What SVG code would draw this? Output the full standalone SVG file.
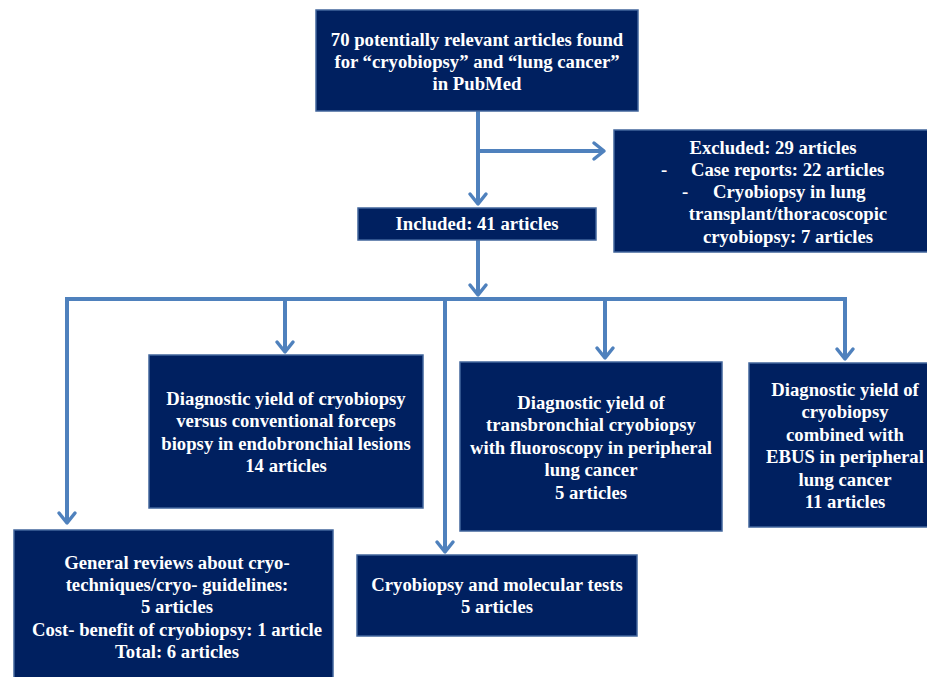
<svg xmlns="http://www.w3.org/2000/svg" width="927" height="677" viewBox="0 0 927 677">
<style>
.box{fill:#002060;stroke:#41659c;stroke-width:1.5}
.t{font-family:"Liberation Serif","Times New Roman",serif;font-weight:bold;font-size:18.7px;fill:#ffffff;text-anchor:middle}
.tl{font-family:"Liberation Serif","Times New Roman",serif;font-weight:bold;font-size:18.7px;fill:#ffffff}
.c{fill:none;stroke:#4f81bd;stroke-width:4}
</style>
<defs>
<marker id="arr" markerUnits="userSpaceOnUse" markerWidth="24" markerHeight="24" viewBox="-14 -12 16 24" refX="0" refY="0" orient="auto">
<path d="M-10,-8 L0,0 L-10,8" fill="none" stroke="#4f81bd" stroke-width="3.5" stroke-linecap="round" stroke-linejoin="round"/>
</marker>
</defs>
<rect width="927" height="677" fill="#ffffff"/>
<g id="connectors">
<path class="c" d="M478 111 V204" marker-end="url(#arr)"/>
<path class="c" d="M478 151 H604" marker-end="url(#arr)"/>
<path class="c" d="M478 240 V295" marker-end="url(#arr)"/>
<path class="c" d="M67 299 H847"/>
<path class="c" d="M67 297 V523" marker-end="url(#arr)"/>
<path class="c" d="M285 299 V352" marker-end="url(#arr)"/>
<path class="c" d="M445 299 V552" marker-end="url(#arr)"/>
<path class="c" d="M605 299 V358" marker-end="url(#arr)"/>
<path class="c" d="M845 297 V359" marker-end="url(#arr)"/>
</g>
<g id="search">
<rect class="box" x="316" y="10" width="322" height="101"/>
<text class="t" x="477" y="46">70 potentially relevant articles found</text>
<text class="t" x="477" y="68">for “cryobiopsy” and “lung cancer”</text>
<text class="t" x="477" y="90">in PubMed</text>
</g>
<g id="excluded">
<rect class="box" x="614" y="130" width="316" height="122"/>
<text class="t" x="773" y="154">Excluded: 29 articles</text>
<text class="tl" x="661" y="176">-</text>
<text class="tl" x="691" y="176">Case reports: 22 articles</text>
<text class="tl" x="682" y="198">-</text>
<text class="tl" x="713" y="198">Cryobiopsy in lung</text>
<text class="t" x="788" y="220">transplant/thoracoscopic</text>
<text class="t" x="788" y="243">cryobiopsy: 7 articles</text>
</g>
<g id="included">
<rect class="box" x="358" y="208" width="238" height="32"/>
<text class="t" x="477" y="230">Included: 41 articles</text>
</g>
<g id="endobronchial">
<rect class="box" x="149" y="355" width="274" height="153"/>
<text class="t" x="286" y="405">Diagnostic yield of cryobiopsy</text>
<text class="t" x="286" y="427">versus conventional forceps</text>
<text class="t" x="286" y="450">biopsy in endobronchial lesions</text>
<text class="t" x="286" y="472">14 articles</text>
</g>
<g id="transbronchial">
<rect class="box" x="460" y="362" width="262" height="169"/>
<text class="t" x="591" y="409">Diagnostic yield of</text>
<text class="t" x="591" y="431">transbronchial cryobiopsy</text>
<text class="t" x="591" y="454">with fluoroscopy in peripheral</text>
<text class="t" x="591" y="476">lung cancer</text>
<text class="t" x="591" y="499">5 articles</text>
</g>
<g id="ebus">
<rect class="box" x="749" y="363" width="182" height="164"/>
<text class="t" x="845" y="396">Diagnostic yield of</text>
<text class="t" x="845" y="418">cryobiopsy</text>
<text class="t" x="845" y="441">combined with</text>
<text class="t" x="845" y="463">EBUS in peripheral</text>
<text class="t" x="845" y="486">lung cancer</text>
<text class="t" x="845" y="508">11 articles</text>
</g>
<g id="reviews">
<rect class="box" x="14" y="530" width="319" height="150"/>
<text class="t" x="177" y="569">General reviews about cryo-</text>
<text class="t" x="177" y="591">techniques/cryo- guidelines:</text>
<text class="t" x="177" y="613">5 articles</text>
<text class="t" x="177" y="636">Cost- benefit of cryobiopsy: 1 article</text>
<text class="t" x="177" y="658">Total: 6 articles</text>
</g>
<g id="molecular">
<rect class="box" x="357" y="555" width="280" height="81"/>
<text class="t" x="497" y="591">Cryobiopsy and molecular tests</text>
<text class="t" x="497" y="613">5 articles</text>
</g>
</svg>
